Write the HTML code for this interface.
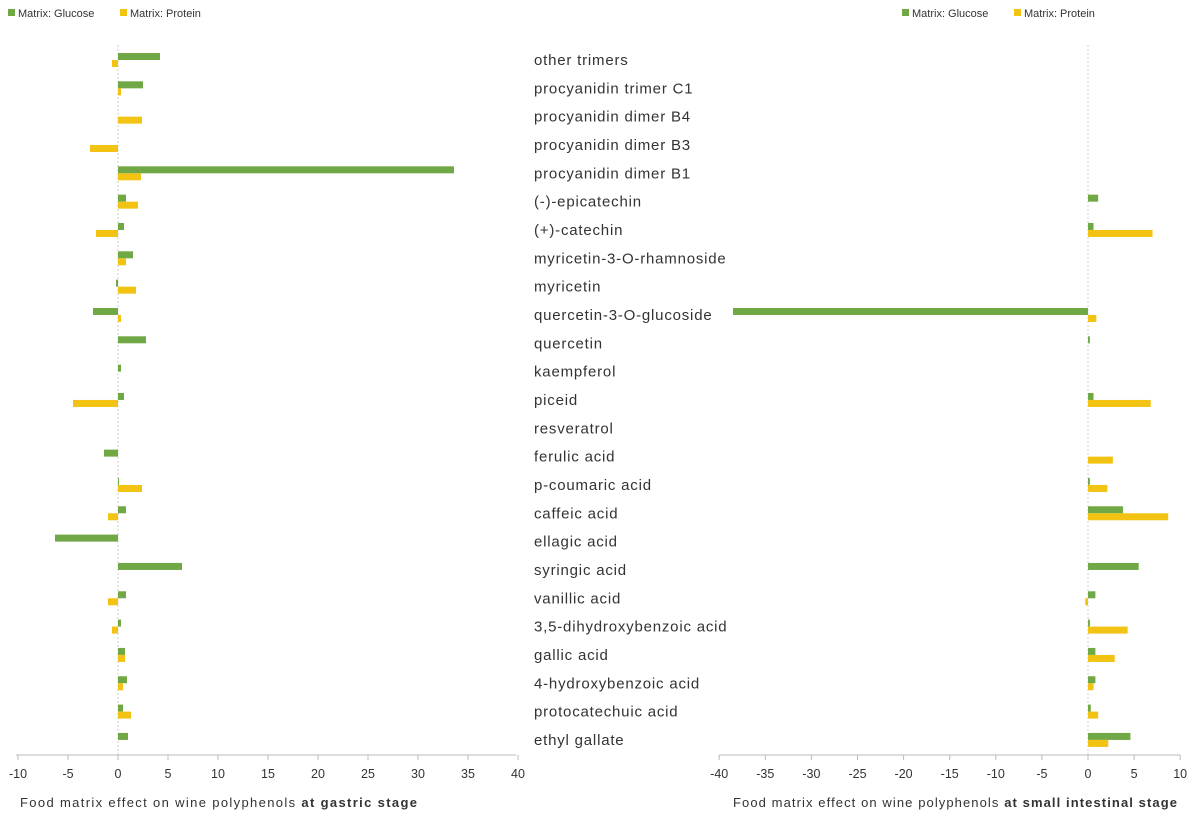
<!DOCTYPE html>
<html><head><meta charset="utf-8"><style>
body{margin:0;background:#fff;font-family:"Liberation Sans",sans-serif;}
svg text{font-family:"Liberation Sans",sans-serif;fill:#333;}
</style></head><body>
<svg id="c" width="1200" height="819"></svg>
<script>
const categories=["other trimers","procyanidin trimer C1","procyanidin dimer B4","procyanidin dimer B3","procyanidin dimer B1","(-)-epicatechin","(+)-catechin","myricetin-3-O-rhamnoside","myricetin","quercetin-3-O-glucoside","quercetin","kaempferol","piceid","resveratrol","ferulic acid","p-coumaric acid","caffeic acid","ellagic acid","syringic acid","vanillic acid","3,5-dihydroxybenzoic acid","gallic acid","4-hydroxybenzoic acid","protocatechuic acid","ethyl gallate"];
const gastricGlucose=[4.2,2.5,0,0,33.6,0.8,0.6,1.5,-0.2,-2.5,2.8,0.3,0.6,0,-1.4,0.1,0.8,-6.3,6.4,0.8,0.3,0.7,0.9,0.5,1.0];
const gastricProtein=[-0.6,0.3,2.4,-2.8,2.3,2.0,-2.2,0.8,1.8,0.3,0,0,-4.5,0,0,2.4,-1.0,0,0,-1.0,-0.6,0.7,0.5,1.3,0];
const intestGlucose=[0,0,0,0,0,1.1,0.6,0,0,-38.5,0.2,0,0.6,0,0,0.2,3.8,0,5.5,0.8,0.2,0.8,0.8,0.3,4.6];
const intestProtein=[0,0,0,0,0,0,7.0,0,0,0.9,0,0,6.8,0,2.7,2.1,8.7,0,0,-0.3,4.3,2.9,0.6,1.1,2.2];
const leftTicks=[-10,-5,0,5,10,15,20,25,30,35,40];
const rightTicks=[-40,-35,-30,-25,-20,-15,-10,-5,0,5,10];
const NS="http://www.w3.org/2000/svg",svg=document.getElementById('c');
const G="#70a845",Y="#f2c313";
function mk(t,a,txt){const e=document.createElementNS(NS,t);for(const k in a)e.setAttribute(k,a[k]);if(txt!==undefined)e.textContent=txt;svg.appendChild(e);return e;}
const rowY=i=>60+i*28.33;
const xL=v=>118+v*10;
const xR=v=>1088+v*9.22;
function panel(sx,ticks,g,p,x0,x1,pre){
  let z=mk('line',{x1:sx(0),x2:sx(0),y1:45,y2:755,stroke:"#ccc","stroke-dasharray":"2,2"});
  
  let a=mk('line',{x1:x0,x2:x1,y1:755,y2:755,stroke:"#bbb"});
  
  ticks.forEach(t=>{
    let tk=mk('line',{x1:sx(t),x2:sx(t),y1:755,y2:760,stroke:"#bbb"});
    
    let tl=mk('text',{x:sx(t),y:778,'text-anchor':'middle','font-size':12.5},t);
    
  });
  categories.forEach((c,i)=>{
    const y=rowY(i);
    [[g[i],y-7,G,'glucose'],[p[i],y,Y,'protein']].forEach(([v,yy,col,s])=>{
      if(v===0)return;
      const xa=Math.min(sx(0),sx(v)),w=Math.abs(sx(v)-sx(0));
      let b=mk('rect',{x:xa,y:yy,width:Math.max(w,1),height:7,fill:col});
      
    });
  });
}
panel(xL,leftTicks,gastricGlucose,gastricProtein,16,516,'gastric');
panel(xR,rightTicks,intestGlucose,intestProtein,719,1180,'intestinal');
categories.forEach((c,i)=>{
  let t=mk('text',{x:534,y:rowY(i)+5,'font-size':15,'letter-spacing':0.8},c);
  
});
function legend(x,pre){
  let r1=mk('rect',{x:x,y:9,width:7,height:7,fill:G});
  let t1=mk('text',{x:x+10,y:17,'font-size':11},'Matrix: Glucose');
  let r2=mk('rect',{x:x+112,y:9,width:7,height:7,fill:Y});
  let t2=mk('text',{x:x+122,y:17,'font-size':11},'Matrix: Protein');
}
legend(8,'gastric');legend(902,'intestinal');
let at1=mk('text',{x:20,y:807,'font-size':13,textLength:397,lengthAdjust:'spacing'});at1.innerHTML='Food matrix effect on wine polyphenols <tspan font-weight="bold">at gastric stage</tspan>';

let at2=mk('text',{x:733,y:807,'font-size':13,textLength:444,lengthAdjust:'spacing'});at2.innerHTML='Food matrix effect on wine polyphenols <tspan font-weight="bold">at small intestinal stage</tspan>';

</script>
</body></html>
